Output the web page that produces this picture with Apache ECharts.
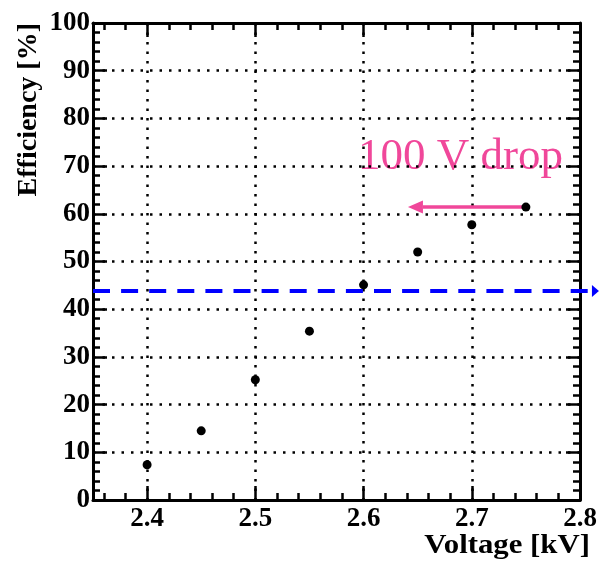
<!DOCTYPE html>
<html>
<head>
<meta charset="utf-8">
<script src="https://cdn.jsdelivr.net/npm/echarts@6/dist/echarts.min.js"></script>
<style>
html,body{margin:0;padding:0;background:#fff;}
#chart{width:600px;height:563px;}
</style>
</head>
<body>
<div id="chart"></div>
<script>
// ---- data ----
const voltage = [2.40, 2.45, 2.50, 2.55, 2.60, 2.65, 2.70, 2.75];
const efficiency = [7.4, 14.5, 25.2, 35.4, 45.1, 52.0, 57.7, 61.4];
const thresholdLine = [2.35, 43.8, 2.8175, 43.8];   // x0, y0, x1, y1 (blue dashed arrow)
const dropArrow = [2.75, 61.4, 2.641, 61.4];        // x0, y0, x1, y1 (pink arrow)
const xMajorTicks = [2.4, 2.5, 2.6, 2.7, 2.8];
const xMinorTicks = [2.36, 2.38, 2.42, 2.44, 2.46, 2.48, 2.52, 2.54, 2.56, 2.58,
                     2.62, 2.64, 2.66, 2.68, 2.72, 2.74, 2.76, 2.78];
const xRange = [2.35, 2.8];
const yRange = [0, 100];
const yStep = 10;
const xTitle = 'Voltage [kV]';
const yTitle = 'Efficiency [%]';
const annotation = '100 V drop';

const FONT = '"Liberation Serif", "DejaVu Serif", serif';
const PINK = '#f0479a';
const BLUE = '#0000ff';

const chart = echarts.init(document.getElementById('chart'), null, {renderer: 'canvas'});

const lineW = 3, tickW = 2.5, majLen = 14, minLen = 7;
const dotted = {color: '#000', width: 2.5, type: [2.5, 7]};

function xAxisDef(position, ticks, len, showLine, withLabels, withSplit) {
  return {
    type: 'value', position: position, min: xRange[0], max: xRange[1],
    axisLine: {show: showLine, onZero: false, lineStyle: {color: '#000', width: lineW}},
    axisTick: {show: true, inside: true, length: len, customValues: ticks,
               lineStyle: {color: '#000', width: tickW}},
    axisLabel: withLabels ? {
      show: true, customValues: xMajorTicks, margin: 6,
      formatter: v => v.toFixed(1),
      fontFamily: FONT, fontWeight: 'bold', fontSize: 27, color: '#000'
    } : {show: false},
    splitLine: {show: withSplit, lineStyle: dotted},
    minorTick: {show: false}
  };
}

function yAxisDef(position, withLabels, withSplit) {
  return {
    type: 'value', position: position, min: yRange[0], max: yRange[1], interval: yStep,
    axisLine: {show: true, onZero: false, lineStyle: {color: '#000', width: lineW}},
    axisTick: {show: true, inside: true, length: majLen, lineStyle: {color: '#000', width: tickW}},
    minorTick: {show: true, splitNumber: 5, length: minLen, lineStyle: {color: '#000', width: tickW}},
    axisLabel: withLabels ? {
      show: true, margin: 3,
      fontFamily: FONT, fontWeight: 'bold', fontSize: 27, color: '#000'
    } : {show: false},
    splitLine: {show: withSplit, lineStyle: dotted}
  };
}

function arrowRenderer(color, headLen, headHalf, dash) {
  return function (params, api) {
    const p0 = api.coord([api.value(0), api.value(1)]);
    const p1 = api.coord([api.value(2), api.value(3)]);
    const dx = p1[0] - p0[0], dy = p1[1] - p0[1];
    const L = Math.sqrt(dx * dx + dy * dy);
    const ux = dx / L, uy = dy / L;
    const base = [p1[0] - ux * headLen, p1[1] - uy * headLen];
    const nx = -uy, ny = ux;
    return {
      type: 'group',
      children: [
        {type: 'line', shape: {x1: p0[0], y1: p0[1], x2: base[0], y2: base[1]},
         style: {stroke: color, lineWidth: dash ? 4 : 3.5, lineDash: dash || null, fill: null}},
        {type: 'polygon', shape: {points: [
            [p1[0], p1[1]],
            [base[0] + nx * headHalf, base[1] + ny * headHalf],
            [base[0] - nx * headHalf, base[1] - ny * headHalf]]},
         style: {fill: color, stroke: null}}
      ]
    };
  };
}

const option = {
  backgroundColor: '#fff',
  animation: false,
  grid: {left: 93, right: 20, top: 23, bottom: 63, containLabel: false},
  xAxis: [
    xAxisDef('bottom', xMajorTicks, majLen, true, true, true),
    xAxisDef('bottom', xMinorTicks, minLen, false, false, false),
    xAxisDef('top', xMajorTicks, majLen, true, false, false),
    xAxisDef('top', xMinorTicks, minLen, false, false, false)
  ],
  yAxis: [
    yAxisDef('left', true, true),
    yAxisDef('right', false, false)
  ],
  series: [
    {
      type: 'custom', name: 'threshold', clip: false, z: 3,
      renderItem: arrowRenderer(BLUE, 7, 6, [17, 11.1]),
      data: [thresholdLine]
    },
    {
      type: 'custom', name: 'drop', clip: false, z: 4,
      renderItem: arrowRenderer(PINK, 15, 6.5, null),
      data: [dropArrow]
    },
    {
      type: 'scatter', name: 'efficiency', z: 5,
      symbol: 'circle', symbolSize: 9,
      itemStyle: {color: '#000', opacity: 1},
      emphasis: {disabled: true},
      data: voltage.map((v, i) => [v, efficiency[i]])
    }
  ],
  graphic: [
    {type: 'text', x: 29, y: 23, rotation: Math.PI / 2,
     style: {text: yTitle, fontFamily: FONT, fontWeight: 'bold', fontSize: 28, fill: '#000',
             align: 'right', verticalAlign: 'middle'}},
    {type: 'text', x: 590, y: 546, scaleX: 1.1,
     style: {text: xTitle, fontFamily: FONT, fontWeight: 'bold', fontSize: 28, fill: '#000',
             align: 'right', verticalAlign: 'middle'}},
    {type: 'text', x: 358, y: 157,
     style: {text: annotation, fontFamily: FONT, fontSize: 45, fill: PINK,
             align: 'left', verticalAlign: 'middle'}}
  ]
};
chart.setOption(option);
</script>
</body>
</html>
